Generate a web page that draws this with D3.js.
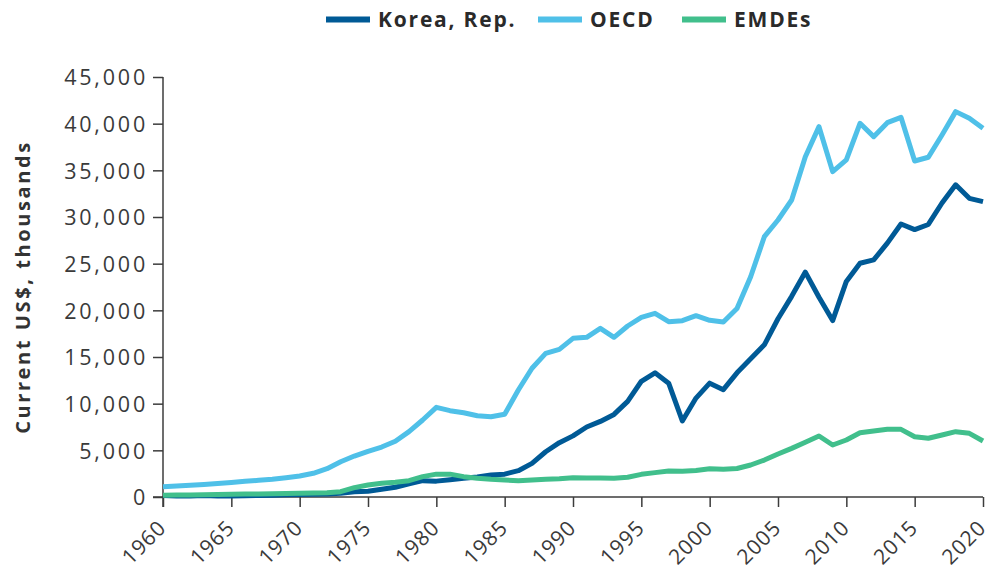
<!DOCTYPE html>
<html>
<head>
<meta charset="utf-8">
<script src="https://cdn.jsdelivr.net/npm/d3@7"></script>
<style>
  body { margin: 0; background: #fff; }
  svg { display: block; }
</style>
</head>
<body>
<svg id="chart" width="992" height="577"></svg>
<script>
const years = d3.range(1960, 2021);
const korea = [150,100,110,150,120,110,130,160,200,240,280,300,330,400,560,620,830,1050,1400,1750,1700,1850,2000,2150,2350,2450,2820,3600,4850,5820,6550,7500,8100,8850,10250,12400,13300,12200,8150,10600,12200,11500,13300,14800,16300,19100,21500,24100,21400,18900,23100,25050,25400,27200,29250,28650,29200,31500,33450,32000,31650];
const oecd = [1100,1170,1250,1340,1440,1560,1680,1790,1900,2060,2250,2540,3030,3780,4390,4900,5350,5970,7000,8250,9610,9250,9030,8710,8600,8860,11460,13790,15390,15820,17000,17110,18070,17110,18320,19250,19680,18780,18890,19430,18930,18750,20200,23600,27890,29680,31820,36460,39680,34860,36110,40040,38610,40110,40680,36000,36400,38790,41290,40570,39500];
const emdes = [200,210,220,240,260,290,310,320,340,370,400,420,460,570,1000,1290,1470,1570,1750,2180,2450,2450,2180,2000,1890,1820,1750,1820,1890,1960,2070,2040,2040,2000,2110,2430,2610,2790,2750,2850,3020,2970,3050,3430,3960,4610,5210,5860,6540,5570,6110,6890,7070,7250,7250,6460,6290,6640,7000,6820,6000];
const seriesNames = ["Korea, Rep.", "OECD", "EMDEs"];
const seriesColors = ["#005a96", "#4fc0e8", "#41bf8c"];
const yTicks = [0,5000,10000,15000,20000,25000,30000,35000,40000,45000];
const xTicks = [1960,1965,1970,1975,1980,1985,1990,1995,2000,2005,2010,2015,2020];
const yTitle = "Current US$, thousands";

const svg = d3.select("#chart");
const x = d3.scaleLinear().domain([1960, 2020]).range([163, 983]);
const y = d3.scaleLinear().domain([0, 45000]).range([497, 77]);
const font = "'Open Sans', sans-serif";
const axisColor = "#3c3c3c";

// y axis
const yAxis = svg.append("g").attr("transform", "translate(163,0)")
  .call(d3.axisLeft(y).tickValues(yTicks).tickSize(10).tickPadding(5).tickFormat(d3.format(",")));
yAxis.select(".domain").attr("d", "M0,77V507");
// x axis
const xAxis = svg.append("g").attr("transform", "translate(0,497)")
  .call(d3.axisBottom(x).tickValues(xTicks).tickSize(10).tickFormat(d3.format("d")));
xAxis.select(".domain").attr("d", "M153,0H983");
[yAxis, xAxis].forEach(g => {
  g.selectAll("path, line").attr("stroke", axisColor).attr("stroke-width", 1.5);
  g.selectAll("text").attr("fill", "#3a3a3a").style("font-family", font)
    .style("font-weight", 400);
});
yAxis.selectAll("text").attr("dy", "0.36em")
  .style("font-size", "21.5px").style("letter-spacing", "2.8px");
xAxis.selectAll("text")
  .style("font-size", "21px").style("letter-spacing", "1px")
  .attr("text-anchor", "end")
  .attr("y", 0).attr("dy", 0)
  .attr("transform", "translate(4,32) rotate(-45)");

// y title
svg.append("text")
  .attr("transform", "translate(30,287) rotate(-90)")
  .attr("text-anchor", "middle")
  .style("font-family", font).style("font-weight", 700).style("font-size", "20px")
  .style("letter-spacing", "2.6px")
  .attr("fill", "#333")
  .text(yTitle);

// lines
const allSeries = [korea, oecd, emdes];
const line = d3.line().x((d, i) => x(years[i])).y(d => y(d));
[0, 1, 2].forEach(k => {
  svg.append("path").datum(allSeries[k])
    .attr("fill", "none").attr("stroke", seriesColors[k])
    .attr("stroke-width", 5).attr("stroke-linejoin", "round").attr("stroke-linecap", "butt")
    .attr("d", line);
});

// legend
const legendX = [326, 538, 682];
seriesNames.forEach((n, i) => {
  const g = svg.append("g").attr("transform", `translate(${legendX[i]},19.5)`);
  g.append("line").attr("x1", 0).attr("x2", 44).attr("y1", 0).attr("y2", 0)
    .attr("stroke", seriesColors[i]).attr("stroke-width", 6);
  g.append("text").attr("x", 52).attr("y", 0).attr("dy", "0.35em")
    .style("font-family", font).style("font-weight", 700).style("font-size", "21px")
    .style("letter-spacing", "1.8px")
    .attr("fill", "#2a2a2a").text(n);
});
</script>
</body>
</html>
